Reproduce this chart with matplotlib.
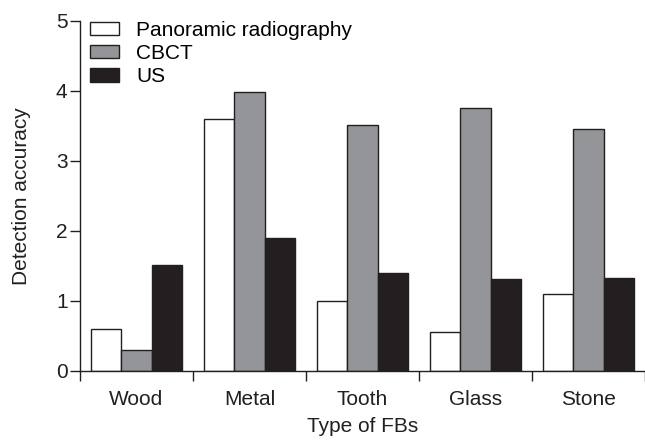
import numpy as np
import matplotlib
matplotlib.use('Agg')
import matplotlib.pyplot as plt

plt.rcParams['font.family'] = ['Liberation Sans', 'DejaVu Sans']

categories = ['Wood', 'Metal', 'Tooth', 'Glass', 'Stone']
panoramic = [0.60, 3.60, 0.99, 0.56, 1.10]
cbct = [0.30, 3.98, 3.51, 3.76, 3.45]
us = [1.51, 1.90, 1.39, 1.31, 1.33]
series_names = ['Panoramic radiography', 'CBCT', 'US']

fs = 15
fig = plt.figure(figsize=(6.45, 4.41), dpi=100)
ax = fig.add_axes([80/645, 70.3/441, 1 - 80/645, (370.7 - 20.7)/441])

x = np.arange(len(categories))
w = 0.27
edge = '#231f20'
ax.bar(x - w, panoramic, w, color='white', edgecolor=edge, linewidth=1, label=series_names[0])
ax.bar(x, cbct, w, color='#939598', edgecolor=edge, linewidth=1, label=series_names[1])
ax.bar(x + w, us, w, color='#231f20', edgecolor=edge, linewidth=1, label=series_names[2])

ax.set_xlim(-0.5, len(categories) - 0.5)
ax.set_ylim(0, 5)
ax.set_yticks(range(6))
ax.set_xticks(x)
ax.set_xticklabels(categories)
ax.set_xticks(np.arange(-0.5, len(categories), 1), minor=True)
ax.tick_params(axis='x', which='major', length=0, pad=14, labelsize=fs, colors='#231f20')
ax.tick_params(axis='x', which='minor', length=7, width=1, color='#231f20')
ax.tick_params(axis='y', length=7, width=1, labelsize=fs, pad=2, color='#231f20', labelcolor='#231f20')

for s in ['top', 'right']:
    ax.spines[s].set_visible(False)
for s in ['left', 'bottom']:
    ax.spines[s].set_linewidth(1)
    ax.spines[s].set_color('#231f20')

ax.set_xlabel('Type of FBs', fontsize=fs, labelpad=6, color='#231f20')
ax.set_ylabel('Detection accuracy', fontsize=fs, labelpad=18, color='#231f20')

ax.legend(loc='upper left', frameon=False, fontsize=fs, handlelength=1.4, handleheight=0.63,
          labelspacing=0.2, handletextpad=0.8, borderaxespad=0, borderpad=0,
          bbox_to_anchor=(0.018, 1.0))

fig.savefig('out.png', dpi=100)
